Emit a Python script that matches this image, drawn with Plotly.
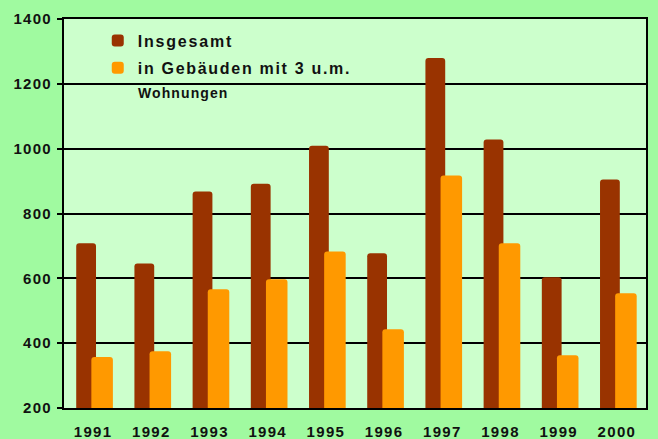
import plotly.graph_objects as go

# Jahre und Werte (Anzahl Wohnungen)
years = ["1991", "1992", "1993", "1994", "1995", "1996", "1997", "1998", "1999", "2000"]
insgesamt = [708, 646, 868, 892, 1009, 677, 1280, 1028, 603, 905]
gebaeude_3um = [357, 375, 566, 597, 683, 443, 917, 708, 363, 554]

series_names = ["Insgesamt", "in Gebäuden mit 3 u.m."]
extra_label = "Wohnungen"
y_ticks = [200, 400, 600, 800, 1000, 1200, 1400]

BROWN = "#993300"
ORANGE = "#FF9900"
FONT = "Liberation Sans"


def spaced(text, px):
    return f"<b><span style='letter-spacing:{px}px;font-weight:700'>{text}</span></b>"


fig = go.Figure()
fig.add_trace(go.Bar(
    x=years, y=insgesamt, name=spaced(series_names[0], 1.8),
    marker=dict(color=BROWN, line=dict(width=0)),
    offset=-0.29, width=0.34, legendgroup="a",
))
fig.add_trace(go.Bar(
    x=years, y=gebaeude_3um, name=spaced(series_names[1], 1.7),
    marker=dict(color=ORANGE, line=dict(width=0)),
    offset=-0.03, width=0.37, legendgroup="b",
))

fig.update_layout(
    width=658, height=439,
    margin=dict(l=64, r=12, t=19, b=31, autoexpand=False),
    paper_bgcolor="#A0FAA0",
    plot_bgcolor="#CCFFCC",
    barmode="overlay",
    barcornerradius=3,
    font=dict(family=FONT, color="#111111", weight="bold"),
    showlegend=True,
    legend=dict(
        x=0.058, xanchor="left", y=0.988, yanchor="top",
        bgcolor="rgba(0,0,0,0)",
        font=dict(family=FONT, size=16, color="#111111", weight="bold"),
        tracegroupgap=3.5,
        traceorder="grouped",
    ),
    xaxis=dict(
        type="category",
        range=[-0.5, 9.5],
        tickvals=years,
        ticktext=[spaced(y, 1.3) for y in years],
        tickfont=dict(family=FONT, size=15, weight="bold"),
        ticks="",
        ticklabelstandoff=9,
        automargin=False,
        showline=True, linecolor="black", linewidth=2, mirror=True,
        showgrid=False,
    ),
    yaxis=dict(
        range=[200, 1400],
        tickvals=y_ticks,
        ticktext=[spaced(v, 1.3) for v in y_ticks],
        tickfont=dict(family=FONT, size=15, weight="bold"),
        ticks="outside", ticklen=5, tickcolor="black", tickwidth=1.5,
        ticklabelstandoff=2,
        automargin=False,
        showline=True, linecolor="black", linewidth=2, mirror=True,
        showgrid=True, gridcolor="black", gridwidth=1.5,
        zeroline=False,
    ),
    annotations=[dict(
        text=spaced(extra_label, 1.1),
        xref="paper", yref="paper",
        x=0.123, y=0.81, xanchor="left", yanchor="middle",
        showarrow=False,
        font=dict(family=FONT, size=14, color="#111111", weight="bold"),
    )],
)

fig.write_html("out.html")
